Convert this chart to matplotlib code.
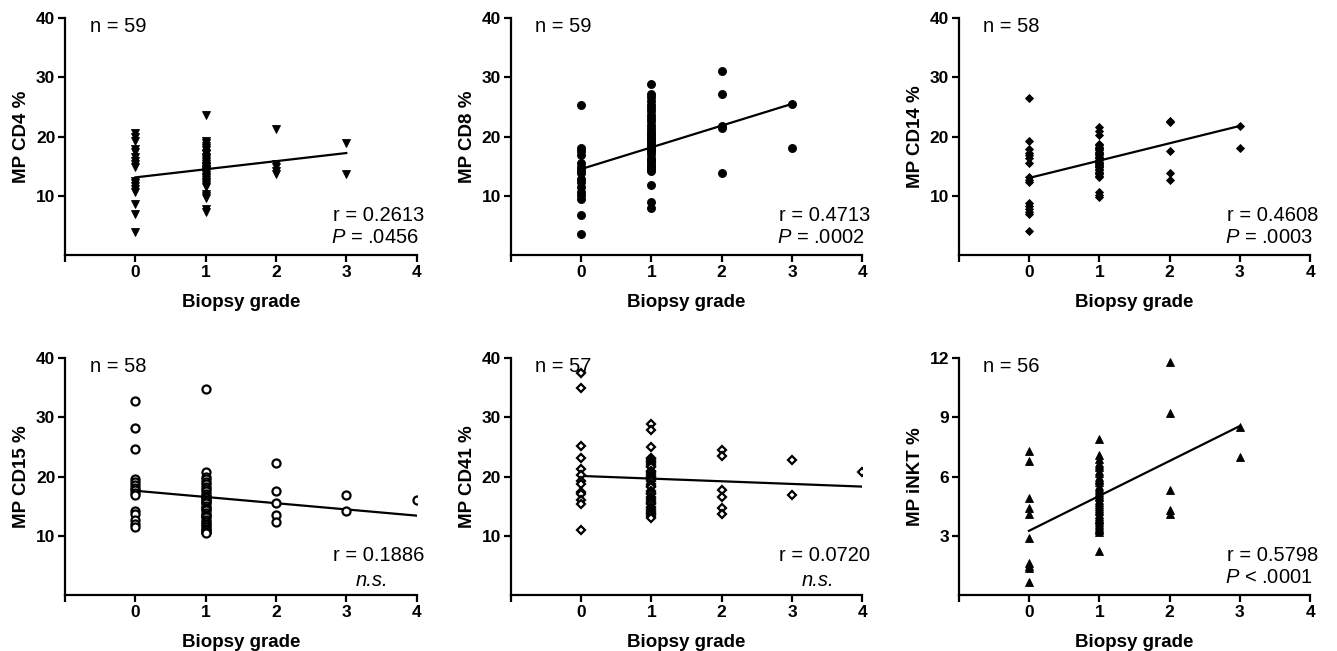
import matplotlib
matplotlib.use("Agg")
import matplotlib.pyplot as plt

plt.rcParams['font.family'] = ['Liberation Sans', 'DejaVu Sans']
plt.rcParams['mathtext.fontset'] = 'custom'
plt.rcParams['mathtext.it'] = 'Liberation Sans:italic'
plt.rcParams['mathtext.rm'] = 'Liberation Sans'

# ---- data: values per biopsy grade (0,1,2,3,4) ----
cd4 = [[20.6, 19.9, 19.3, 17.9, 17.4, 16.5, 15.9, 15.4, 14.8, 12.5, 12.1, 11.7, 11.1, 10.6, 8.6, 6.9, 3.8],
       [23.6, 19.3, 18.9, 18.4, 18.0, 17.7, 17.3, 17.0, 16.6, 16.3, 16.0, 15.7, 15.4, 15.1, 15.0, 14.8, 14.6,
        14.5, 14.4, 14.2, 14.0, 13.8, 13.5, 13.2, 13.0, 12.7, 12.4, 12.1, 11.8, 11.5, 10.3, 10.0, 9.7, 7.7, 7.3],
       [21.3, 15.4, 14.8, 14.2, 13.7],
       [18.9, 13.7]]
cd8 = [[25.3, 18.1, 17.5, 16.9, 15.5, 14.9, 14.4, 13.8, 12.9, 12.4, 11.5, 10.7, 10.1, 9.5, 6.7, 3.6],
       [28.8, 27.1, 26.6, 26.0, 25.4, 24.8, 24.3, 23.7, 23.2, 22.6, 22.0, 21.5, 20.9, 20.6, 20.3, 19.8, 19.5,
        19.2, 18.9, 18.6, 18.3, 18.1, 17.8, 17.5, 17.0, 16.4, 16.1, 15.8, 15.3, 15.0, 14.7, 14.5, 14.2, 11.8, 9.0, 7.9],
       [31.1, 27.2, 21.8, 21.5, 13.9],
       [25.5, 18.1]]
cd14 = [[26.5, 19.3, 17.9, 17.3, 16.9, 16.3, 15.5, 13.2, 12.7, 12.4, 8.7, 8.3, 7.7, 7.3, 7.0, 4.0],
        [21.6, 20.9, 20.3, 18.8, 18.5, 18.2, 18.0, 17.9, 17.7, 17.4, 17.2, 17.1, 16.8, 16.6, 16.5, 16.3, 16.1,
         16.0, 15.7, 15.6, 15.4, 15.2, 15.1, 14.9, 14.8, 14.5, 14.3, 14.0, 13.9, 13.7, 13.4, 13.2, 10.6, 10.1, 9.8],
        [22.7, 22.4, 17.6, 13.8, 12.6],
        [21.8, 18.0]]
cd15 = [[32.7, 28.2, 24.6, 19.6, 19.1, 18.6, 18.0, 17.7, 17.2, 16.8, 14.1, 13.6, 12.7, 12.0, 11.4],
        [34.7, 20.7, 20.0, 19.5, 19.1, 18.7, 18.3, 17.9, 17.5, 17.1, 16.7, 16.5, 16.3, 16.0, 15.9, 15.7, 15.5,
         15.1, 14.7, 14.5, 14.3, 13.9, 13.5, 13.3, 13.1, 12.7, 12.3, 12.0, 11.9, 11.5, 11.1, 10.9, 10.7, 10.6, 10.4],
        [22.2, 17.6, 15.5, 13.5, 12.3],
        [16.8, 14.2],
        [16.1]]
cd41 = [[37.4, 34.9, 25.2, 23.1, 21.3, 20.3, 19.3, 18.7, 17.4, 17.0, 16.0, 15.4, 10.9],
        [28.9, 27.8, 25.0, 23.2, 22.9, 22.7, 22.4, 22.1, 21.8, 21.6, 21.0, 20.7, 20.4, 20.1, 19.9, 19.6, 19.3,
         18.7, 18.4, 18.2, 17.6, 17.3, 17.0, 16.5, 16.2, 15.9, 15.6, 15.3, 14.8, 14.5, 14.2, 13.9, 13.6, 13.3, 13.0],
        [24.4, 23.4, 17.8, 16.6, 14.7, 13.7],
        [22.8, 16.8],
        [20.8]]
inkt = [[7.3, 6.8, 4.9, 4.4, 4.1, 2.9, 1.6, 1.45, 1.35, 0.65],
        [7.9, 7.1, 6.9, 6.7, 6.6, 6.5, 6.3, 6.2, 6.0, 5.9, 5.8, 5.7, 5.5, 5.4, 5.3, 5.2, 5.1, 5.0, 4.95, 4.8,
         4.7, 4.6, 4.5, 4.4, 4.3, 4.25, 4.1, 4.0, 3.9, 3.85, 3.8, 3.7, 3.6, 3.5, 3.4, 3.35, 3.3, 3.2, 2.25],
        [11.8, 9.2, 5.3, 4.3, 4.1],
        [8.5, 7.0]]

ylabels = ['MP CD4 %', 'MP CD8 %', 'MP CD14 %', 'MP CD15 %', 'MP CD41 %', 'MP iNKT %']
n_labels = ['n = 59', 'n = 59', 'n = 58', 'n = 58', 'n = 57', 'n = 56']
r_labels = ['r = 0.2613', 'r = 0.4713', 'r = 0.4608', 'r = 0.1886', 'r = 0.0720', 'r = 0.5798']
p_labels = [r'$\mathit{P}$ = .0456', r'$\mathit{P}$ = .0002', r'$\mathit{P}$ = .0003',
            'n.s.', 'n.s.', r'$\mathit{P}$ < .0001']
# regression line: intercept, slope
fit_intercept = [13.1, 14.5, 13.0, 17.6, 20.1, 3.25]
fit_slope = [1.37, 3.67, 2.93, -1.05, -0.45, 1.77]
y_max = [40, 40, 40, 40, 40, 12]
y_ticks = [[10, 20, 30, 40]] * 5 + [[3, 6, 9, 12]]
x_ticks = [-1, 0, 1, 2, 3, 4]
x_ticklabels = ['', '0', '1', '2', '3', '4']

# marker styles
markers = ['v', 'o', 'D', 'o', 'D', '^']
msizes = [5.6, 5.8, 4.0, 5.8, 4.4, 5.4]
filled = [True, True, True, False, False, True]

datasets = [cd4, cd8, cd14, cd15, cd41, inkt]

fig = plt.figure(figsize=(13.37, 6.51), dpi=100)
lefts = [0.0486, 0.382, 0.717]
bottoms = [0.6083, 0.086]
W, H = 0.263, 0.364

for i, data in enumerate(datasets):
    row, col = divmod(i, 3)
    ax = fig.add_axes([lefts[col], bottoms[row], W, H])
    xs, ys = [], []
    for g, vals in enumerate(data):
        xs += [g] * len(vals)
        ys += vals
    ax.plot(xs, ys, linestyle='none', marker=markers[i], markersize=msizes[i],
            markerfacecolor='black' if filled[i] else 'white',
            markeredgecolor='black', markeredgewidth=1.6 if not filled[i] else 0.6, zorder=3)
    xmax = len(data) - 1
    ax.plot([0, xmax], [fit_intercept[i], fit_intercept[i] + fit_slope[i] * xmax],
            color='black', lw=1.6, zorder=2)
    ax.set_xlim(-1, 4)
    ax.set_ylim(0, y_max[i])
    ax.set_xticks(x_ticks)
    ax.set_xticklabels(x_ticklabels)
    ax.set_yticks(y_ticks[i])
    for s in ['top', 'right']:
        ax.spines[s].set_visible(False)
    for s in ['left', 'bottom']:
        ax.spines[s].set_linewidth(1.6)
    ax.tick_params(direction='out', length=5, width=1.6, labelsize=12.5, pad=2)
    for lab in ax.get_xticklabels() + ax.get_yticklabels():
        lab.set_fontweight('bold')
    ax.set_xlabel('Biopsy grade', fontsize=13.5, fontweight='bold', labelpad=10)
    ax.set_ylabel(ylabels[i], fontsize=13.5, fontweight='bold', labelpad=4)
    ax.text(0.07, 0.965, n_labels[i], transform=ax.transAxes, fontsize=14.5,
            ha='left', va='center')
    ax.text(0.892, 0.168, r_labels[i], transform=ax.transAxes, fontsize=14.5,
            ha='center', va='center')
    if p_labels[i] == 'n.s.':
        ax.text(0.873, 0.062, 'n.s.', transform=ax.transAxes, fontsize=14.5,
                ha='center', va='center', fontstyle='italic')
    else:
        ax.text(0.882, 0.075, p_labels[i], transform=ax.transAxes, fontsize=14.5,
                ha='center', va='center')

fig.savefig('out.png', dpi=100)
